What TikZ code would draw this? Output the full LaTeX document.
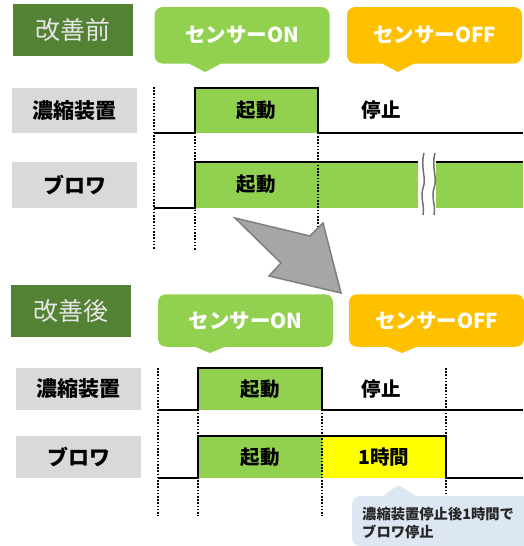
\documentclass[tikz,border=0pt]{standalone}
\usepackage{fontspec}
\newfontfamily\jp{Noto Sans CJK JP}
\definecolor{dkgreen}{HTML}{548235}
\definecolor{ltgreen}{HTML}{92D050}
\definecolor{orng}{HTML}{FFC000}
\definecolor{lblgray}{HTML}{D9D9D9}
\definecolor{yel}{HTML}{FFFF00}
\definecolor{arrowfill}{HTML}{A6A6A6}
\definecolor{arrowline}{HTML}{7F7F7F}
\definecolor{noteblue}{HTML}{DDE7F4}
\definecolor{titletext}{HTML}{E7E6E6}
\definecolor{notetext}{HTML}{262626}
\definecolor{breakgray}{HTML}{707070}
\begin{document}
\begin{tikzpicture}[x=1pt,y=-1pt,
  titlebox/.style={fill=dkgreen, text=titletext, minimum width=120pt, minimum height=52pt, inner sep=0pt, font=\jp\fontsize{25}{25}\selectfont},
  bubble/.style={rounded corners=8pt, minimum width=175pt, inner sep=0pt, text=white, font=\jp\bfseries\fontsize{20.5}{20.5}\selectfont},
  rowlabel/.style={fill=lblgray, minimum width=125pt, inner sep=0pt, font=\jp\bfseries\fontsize{21}{21}\selectfont},
  statetext/.style={inner sep=0pt, font=\jp\bfseries\fontsize{19.5}{19.5}\selectfont},
  wave/.style={line width=1.8pt, line join=miter},
  vline/.style={line width=1.8pt, dash pattern=on 1.6pt off 1.6pt},
  breakline/.style={line width=1.5pt, draw=breakgray},
  bigarrow/.style={fill=arrowfill, draw=arrowline, line width=1.5pt, line join=miter},
  notebody/.style={fill=noteblue, rounded corners=8pt},
  notelabel/.style={inner sep=0pt, text=notetext, align=left, font=\jp\bfseries\fontsize{14.3}{18}\selectfont}
]
\useasboundingbox (0,0) rectangle (523,546);

% ===== before =====
\node[titlebox] (before) at (73,30) {改善前};
\node[bubble, fill=ltgreen, minimum height=56.5pt] (onA) at (242,35.3) {センサーON};
\fill[ltgreen] (186,62) -- (205,72) -- (224,62) -- cycle;
\node[bubble, fill=orng, minimum height=56.5pt] (offA) at (434.5,35.3) {センサーOFF};
\fill[orng] (379,62) -- (398,72) -- (417,62) -- cycle;

\node[rowlabel, minimum height=45pt] (concA) at (74.5,110.5) {濃縮装置};
\node[rowlabel, minimum height=46pt] (blowA) at (74.5,185) {ブロワ};

\fill[ltgreen] (195,88) rectangle (318,133);
\fill[ltgreen] (195,162) rectangle (418,208);
\fill[ltgreen] (436,162) rectangle (523,208);

\draw[vline] (154,87) -- (154,250);
\draw[vline] (195,88) -- (195,250);
\draw[vline] (318,88) -- (318,250);

\draw[wave] (154,133) -- (195,133) -- (195,88) -- (318,88) -- (318,133) -- (523,133);
\draw[wave] (154,208) -- (195,208) -- (195,162) -- (418,162);
\draw[wave] (436,162) -- (523,162);

\draw[breakline] (424,153) .. controls (420,168) and (427,178) .. (423,188) .. controls (420,198) and (425,206) .. (423,215);
\draw[breakline] (435,153) .. controls (431,168) and (438,178) .. (434,188) .. controls (431,198) and (436,206) .. (434,215);

\node[statetext] (runA1) at (256,110) {起動};
\node[statetext] (stopA) at (381,110) {停止};
\node[statetext] (runA2) at (256,184) {起動};

% ===== arrow =====
\draw[bigarrow] (235,218) -- (310,236) -- (323,223) -- (341,293) -- (269,276) -- (281,263) -- cycle;

% ===== after =====
\node[titlebox] (after) at (71,311) {改善後};
\node[bubble, fill=ltgreen, minimum height=52.5pt] (onB) at (245.5,320.5) {センサーON};
\fill[ltgreen] (191,345) -- (210,353) -- (229,345) -- cycle;
\node[bubble, fill=orng, minimum height=52.5pt] (offB) at (436.5,320.5) {センサーOFF};
\fill[orng] (383,345) -- (402,353) -- (421,345) -- cycle;

\node[rowlabel, minimum height=42pt] (concB) at (78.5,389) {濃縮装置};
\node[rowlabel, minimum height=42pt] (blowB) at (78.5,457) {ブロワ};

\fill[ltgreen] (198,368) rectangle (322,410);
\fill[ltgreen] (198,436) rectangle (322,478);
\fill[yel] (322,436) rectangle (446,478);

\draw[vline] (158,368) -- (158,516);
\draw[vline] (198,368) -- (198,516);
\draw[vline] (322,368) -- (322,516);
\draw[vline] (446,368) -- (446,500);

\draw[wave] (158,410) -- (198,410) -- (198,368) -- (322,368) -- (322,410) -- (523,410);
\draw[wave] (158,478) -- (198,478) -- (198,436) -- (446,436) -- (446,478) -- (523,478);

\node[statetext] (runB1) at (260,389) {起動};
\node[statetext] (stopB) at (381,389) {停止};
\node[statetext] (runB2) at (260,457) {起動};
\node[statetext] (hourB) at (384,457) {1時間};

% note
\fill[notebody] (352,496) rectangle (540,546);
\fill[noteblue] (382,497) -- (398,485) -- (418,497) -- cycle;
\node[notelabel, anchor=north west] (note) at (362,507) {濃縮装置停止後1時間で\\ブロワ停止};
\end{tikzpicture}
\end{document}
